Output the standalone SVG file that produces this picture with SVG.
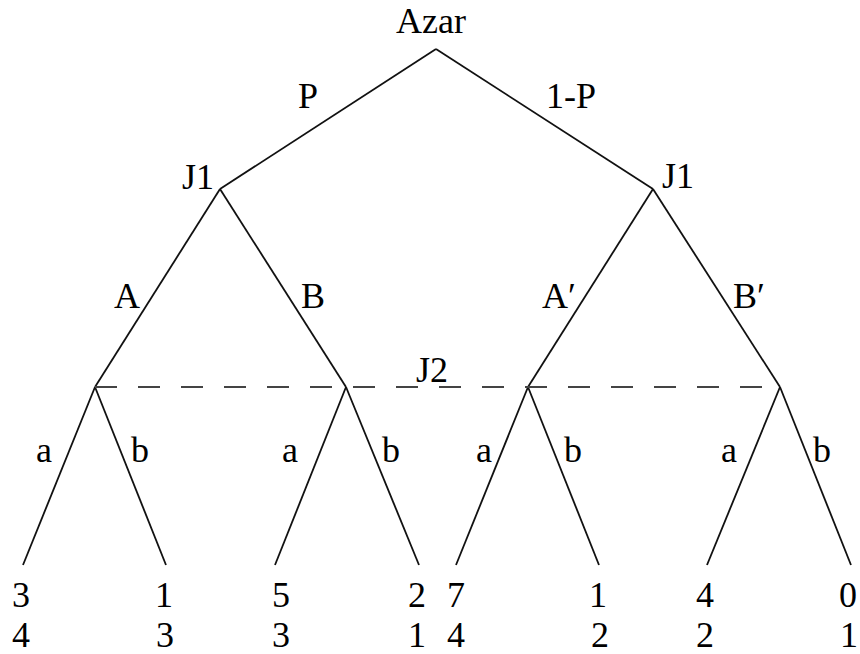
<svg xmlns="http://www.w3.org/2000/svg" width="860" height="654" viewBox="0 0 860 654">
<rect width="860" height="654" fill="#fff"/>
<g id="connectors">
<g stroke="#111" stroke-width="1.8" fill="none">
<line x1="436" y1="49" x2="220" y2="189"/>
<line x1="436" y1="49" x2="653" y2="189"/>
<line x1="220" y1="189" x2="95" y2="387"/>
<line x1="220" y1="189" x2="346" y2="387"/>
<line x1="653" y1="189" x2="528" y2="387"/>
<line x1="653" y1="189" x2="780" y2="387"/>
<line x1="95" y1="387" x2="23" y2="565"/>
<line x1="95" y1="387" x2="166" y2="565"/>
<line x1="346" y1="387" x2="275" y2="565"/>
<line x1="346" y1="387" x2="419" y2="565"/>
<line x1="528" y1="387" x2="456" y2="565"/>
<line x1="528" y1="387" x2="599" y2="565"/>
<line x1="780" y1="387" x2="707" y2="565"/>
<line x1="780" y1="387" x2="851" y2="565"/>
</g>
<line x1="95" y1="387" x2="780" y2="387" stroke="#444" stroke-width="2.2" stroke-dasharray="22 21"/>
<g font-family="Liberation Serif" font-size="36" text-anchor="middle" fill="#000">
<text x="308" y="108">P</text>
<text x="571" y="108">1-P</text>
<text x="127" y="308">A</text>
<text x="313" y="308">B</text>
<text x="559" y="308">A′</text>
<text x="749" y="308">B′</text>
<text x="44" y="462">a</text>
<text x="140" y="462">b</text>
<text x="290" y="462">a</text>
<text x="391" y="462">b</text>
<text x="484" y="462">a</text>
<text x="573" y="462">b</text>
<text x="729" y="462">a</text>
<text x="822" y="462">b</text>
</g>
</g>
<g font-family="Liberation Serif" font-size="36" text-anchor="middle" fill="#000">
<g id="root"><text x="431" y="33">Azar</text></g>
<g id="j1-left"><text x="198" y="189">J1</text></g>
<g id="j1-right"><text x="678" y="188">J1</text></g>
<g id="j2"><text x="432" y="382">J2</text></g>
<g id="leaf1"><text x="21" y="607">3</text><text x="21" y="647">4</text></g>
<g id="leaf2"><text x="164" y="607">1</text><text x="165" y="647">3</text></g>
<g id="leaf3"><text x="281" y="607">5</text><text x="281" y="647">3</text></g>
<g id="leaf4"><text x="417" y="607">2</text><text x="417" y="647">1</text></g>
<g id="leaf5"><text x="456" y="607">7</text><text x="456" y="647">4</text></g>
<g id="leaf6"><text x="598" y="607">1</text><text x="600" y="647">2</text></g>
<g id="leaf7"><text x="705" y="607">4</text><text x="705" y="647">2</text></g>
<g id="leaf8"><text x="848" y="607">0</text><text x="849" y="647">1</text></g>
</g>
</svg>
